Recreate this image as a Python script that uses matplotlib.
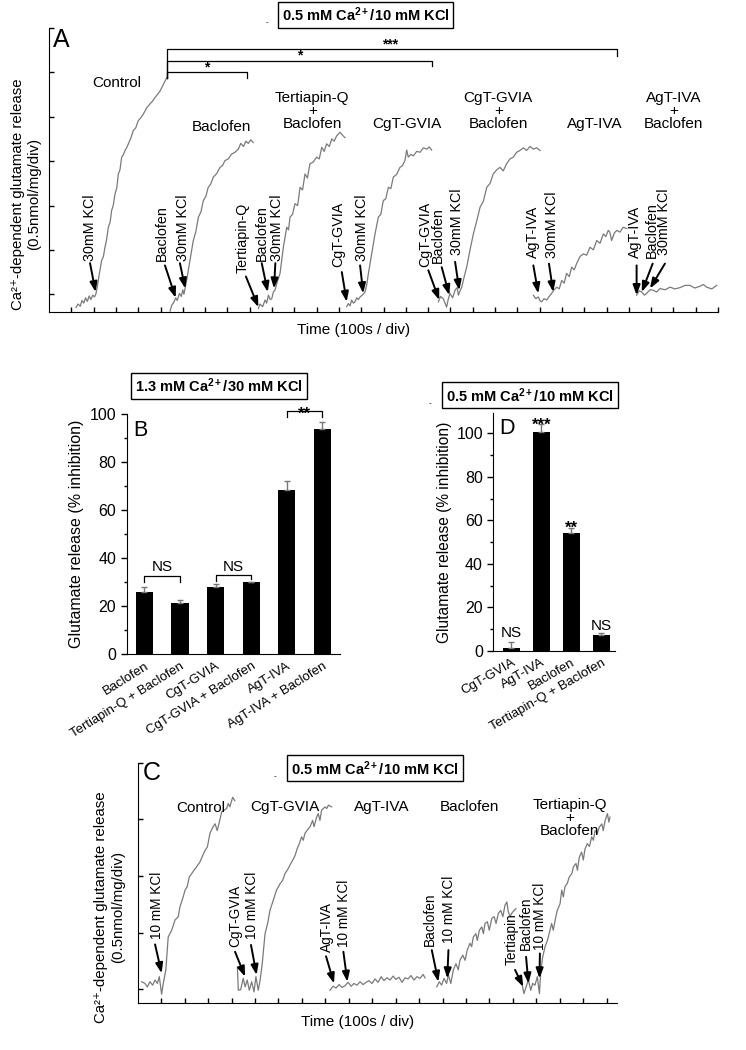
import matplotlib
matplotlib.use("Agg")
import matplotlib.pyplot as plt
import numpy as np

plt.rcParams['font.family'] = ['Liberation Sans', 'DejaVu Sans']
plt.rcParams['mathtext.fontset'] = 'custom'
plt.rcParams['mathtext.rm'] = 'Liberation Sans'
plt.rcParams['mathtext.bf'] = 'Liberation Sans:bold'
plt.rcParams['mathtext.it'] = 'Liberation Sans:italic'

# ---------------- panel A traces (time in div, release in div) ----------------
ctrlA_t = [1.21, 1.30, 1.40, 1.48, 1.56, 1.64, 1.72, 1.80, 1.88, 1.96, 2.04, 2.10, 2.16, 2.26, 2.36, 2.44,
           2.51, 2.58, 2.66, 2.74, 2.81, 2.88, 2.96, 3.04, 3.11, 3.18, 3.26, 3.34, 3.41, 3.48, 3.56, 3.67,
           3.78, 3.89, 4.00, 4.12, 4.23, 4.38, 4.53, 4.64, 4.75, 4.86, 4.98, 5.06, 5.13, 5.20, 5.28]
ctrlA_y = [-0.30, -0.22, -0.27, -0.14, -0.20, -0.08, -0.16, -0.04, -0.12, -0.02, -0.06, 0.00, 0.15, 0.47,
           0.76, 0.85, 1.06, 1.22, 1.51, 1.62, 1.89, 2.00, 2.26, 2.40, 2.71, 2.80, 3.09, 3.15, 3.24, 3.30,
           3.39, 3.52, 3.69, 3.75, 3.91, 3.98, 4.06, 4.20, 4.29, 4.35, 4.43, 4.50, 4.58, 4.66, 4.73, 4.80, 4.88]

bacA_t = [5.43, 5.50, 5.60, 5.68, 5.75, 5.85, 5.93, 6.00, 6.05, 6.12, 6.17, 6.32, 6.47, 6.58, 6.70, 6.81,
          6.92, 7.03, 7.14, 7.25, 7.37, 7.52, 7.67, 7.78, 7.89, 8.04, 8.19, 8.34, 8.49, 8.60, 8.72, 8.83,
          8.94, 9.05, 9.16]
bacA_y = [-0.38, -0.25, -0.18, -0.08, -0.14, 0.02, -0.05, 0.10, 0.00, 0.18, 0.31, 0.76, 1.21, 1.40, 1.74,
          1.85, 2.11, 2.20, 2.41, 2.48, 2.64, 2.72, 2.86, 2.90, 3.01, 3.05, 3.16, 3.20, 3.27, 3.40, 3.33,
          3.45, 3.40, 3.48, 3.42]

tqA_t = [9.39, 9.46, 9.58, 9.69, 9.76, 9.84, 9.92, 9.99, 10.06, 10.13, 10.25, 10.36, 10.51, 10.66, 10.74,
         10.81, 10.92, 11.03, 11.15, 11.26, 11.37, 11.48, 11.59, 11.70, 11.85, 12.00, 12.12, 12.23, 12.34,
         12.45, 12.57, 12.68, 12.79, 12.90, 13.05, 13.17, 13.27]
tqA_y = [-0.32, -0.22, -0.28, -0.13, -0.20, -0.02, -0.12, -0.10, 0.05, 0.09, 0.30, 0.47, 1.06, 1.51, 1.45,
         1.74, 1.80, 2.04, 2.00, 2.41, 2.35, 2.71, 2.62, 2.94, 2.98, 3.09, 3.05, 3.31, 3.22, 3.39, 3.33,
         3.50, 3.45, 3.57, 3.65, 3.58, 3.53]

cgA_t = [13.35, 13.42, 13.50, 13.57, 13.65, 13.72, 13.80, 13.87, 13.95, 14.05, 14.17, 14.25, 14.32, 14.47,
         14.62, 14.77, 14.88, 14.99, 15.10, 15.22, 15.33, 15.44, 15.59, 15.74, 15.85, 15.96, 16.04, 16.11,
         16.22, 16.34, 16.49, 16.64, 16.79, 16.94, 17.05, 17.16]
cgA_y = [-0.28, -0.21, -0.26, -0.13, -0.20, -0.17, -0.08, -0.12, -0.06, -0.02, 0.05, 0.22, 0.46, 0.91,
         1.36, 1.74, 1.80, 2.11, 2.15, 2.41, 2.38, 2.64, 2.70, 2.86, 2.90, 3.01, 3.25, 3.09, 3.15, 3.12,
         3.22, 3.20, 3.30, 3.27, 3.32, 3.25]

cgbA_t = [17.46, 17.56, 17.68, 17.76, 17.83, 17.90, 17.98, 18.10, 18.21, 18.30, 18.36, 18.45, 18.51,
          18.62, 18.73, 18.88, 19.03, 19.18, 19.33, 19.48, 19.63, 19.78, 19.92, 20.07, 20.22, 20.37,
          20.52, 20.67, 20.82, 20.97, 21.12, 21.27, 21.42, 21.57, 21.72, 21.87, 22.02]
cgbA_y = [-0.17, -0.05, -0.10, -0.20, -0.29, -0.12, 0.02, -0.08, 0.09, 0.15, -0.02, 0.10, 0.16, 0.40,
          0.61, 1.00, 1.36, 1.65, 1.96, 2.10, 2.41, 2.50, 2.71, 2.80, 2.86, 2.78, 2.94, 3.05, 3.09, 3.20,
          3.24, 3.30, 3.24, 3.33, 3.27, 3.30, 3.24]

agA_t = [21.72, 21.83, 21.94, 22.02, 22.09, 22.20, 22.32, 22.43, 22.54, 22.65, 22.77, 22.88, 22.99, 23.10,
         23.21, 23.33, 23.44, 23.55, 23.66, 23.81, 23.96, 24.11, 24.26, 24.41, 24.56, 24.71, 24.86, 24.97,
         25.08, 25.15, 25.23, 25.35, 25.46, 25.60, 25.75, 25.91]
agA_y = [-0.02, -0.10, -0.06, -0.15, -0.17, -0.10, -0.13, -0.05, 0.02, 0.10, 0.16, 0.12, 0.31, 0.25, 0.47,
         0.40, 0.61, 0.55, 0.69, 0.85, 0.91, 0.88, 1.06, 1.00, 1.21, 1.15, 1.36, 1.30, 1.44, 1.40, 1.21,
         1.38, 1.44, 1.40, 1.51, 1.48]

agbA_t = [26.35, 26.47, 26.58, 26.70, 26.80, 26.95, 27.10, 27.25, 27.40, 27.62, 27.85, 28.07, 28.30, 28.52,
          28.74, 28.96, 29.19, 29.34, 29.49, 29.72, 29.94]
agbA_y = [-0.02, 0.08, 0.05, -0.02, 0.02, 0.10, 0.09, 0.05, 0.13, 0.10, 0.16, 0.12, 0.15, 0.20, 0.20, 0.14,
          0.18, 0.22, 0.16, 0.12, 0.20]

tracesA = [(ctrlA_t, ctrlA_y), (bacA_t, bacA_y), (tqA_t, tqA_y), (cgA_t, cgA_y),
           (cgbA_t, cgbA_y), (agA_t, agA_y), (agbA_t, agbA_y)]

labelsA = ["Control", "Baclofen", "Tertiapin-Q\n+\nBaclofen", "CgT-GVIA",
           "CgT-GVIA\n+\nBaclofen", "AgT-IVA", "AgT-IVA\n+\nBaclofen"]
labelsA_pos = [(3.04, 4.77), (7.74, 3.76), (11.81, 4.13), (16.04, 3.84),
               (20.15, 4.13), (24.48, 3.84), (28.0, 4.13)]

# arrows: text, text x, text bottom, tail x, tail y, tip x, tip y
arrowsA = [("30mM KCl", 1.84, 0.76, 1.84, 0.70, 2.09, 0.05),
           ("Baclofen", 5.05, 0.76, 5.20, 0.65, 5.68, -0.08),
           ("30mM KCl", 6.00, 0.76, 5.87, 0.70, 6.11, 0.13),
           ("Tertiapin-Q", 8.67, 0.47, 8.83, 0.40, 9.39, -0.29),
           ("Baclofen", 9.54, 0.76, 9.54, 0.70, 9.81, 0.05),
           ("30mM KCl", 10.21, 0.76, 10.15, 0.70, 10.09, 0.13),
           ("CgT-GVIA", 12.97, 0.61, 13.13, 0.50, 13.35, -0.17),
           ("30mM KCl", 14.02, 0.76, 13.95, 0.65, 14.09, 0.02),
           ("CgT-GVIA", 16.86, 0.61, 17.01, 0.54, 17.50, -0.13),
           ("Baclofen", 17.46, 0.70, 17.61, 0.61, 17.95, -0.02),
           ("30mM KCl", 18.31, 0.88, 18.21, 0.73, 18.40, 0.09),
           ("AgT-IVA", 21.72, 0.81, 21.72, 0.65, 21.94, 0.02),
           ("30mM KCl", 22.54, 0.81, 22.42, 0.69, 22.61, 0.05),
           ("AgT-IVA", 26.28, 0.81, 26.35, 0.65, 26.35, -0.02),
           ("Baclofen", 27.03, 0.81, 27.07, 0.69, 26.58, 0.05),
           ("30mM KCl", 27.58, 0.88, 27.62, 0.69, 26.95, 0.13)]

# significance brackets: start, end, height, right drop, stars, star x
bracketsA = [(5.28, 25.46, 5.52, 5.37, "***", 15.29),
             (5.28, 17.16, 5.26, 5.15, "*", 11.26),
             (5.28, 8.87, 5.00, 4.88, "*", 7.07)]

# ---------------- panel B ----------------
catB = ["Baclofen", "Tertiapin-Q + Baclofen", "CgT-GVIA", "CgT-GVIA + Baclofen",
        "AgT-IVA", "AgT-IVA + Baclofen"]
valB = [26.1, 21.3, 27.9, 30.0, 68.5, 93.8]
errB = [1.8, 1.3, 1.4, 0.3, 3.9, 2.9]

# ---------------- panel D ----------------
catD = ["CgT-GVIA", "AgT-IVA", "Baclofen", "Tertiapin-Q + Baclofen"]
valD = [1.5, 100.6, 54.1, 7.2]
errD = [2.8, 3.8, 2.3, 1.2]
sigD = ["NS", "***", "**", "NS"]

# ---------------- panel C traces ----------------
ctrlC_t = [0.17, 0.31, 0.41, 0.52, 0.64, 0.74, 0.84, 0.92, 1.02, 1.09, 1.20, 1.30, 1.45, 1.59, 1.73, 1.80,
           1.94, 2.02, 2.11, 2.20, 2.30, 2.40, 2.51, 2.66, 2.77, 2.87, 2.97, 3.08, 3.20, 3.30, 3.39, 3.48,
           3.58, 3.68, 3.79, 3.86, 3.93, 4.05, 4.14]
ctrlC_y = [0.13, 0.10, 0.04, 0.13, 0.07, 0.16, 0.10, 0.22, -0.09, 0.10, 0.34, 0.92, 1.04, 1.22, 1.28, 1.45,
           1.63, 1.75, 1.81, 1.98, 2.04, 2.10, 2.16, 2.25, 2.36, 2.45, 2.51, 2.75, 2.86, 2.92, 2.80, 2.95,
           3.13, 3.16, 3.19, 3.28, 3.22, 3.39, 3.33]

cgC_t = [4.25, 4.29, 4.39, 4.50, 4.58, 4.67, 4.76, 4.86, 4.96, 5.04, 5.14, 5.22, 5.31, 5.43, 5.54, 5.64,
         5.78, 5.92, 6.07, 6.18, 6.28, 6.42, 6.49, 6.61, 6.71, 6.80, 6.89, 6.99, 7.06, 7.13, 7.23, 7.35,
         7.46, 7.52, 7.63, 7.70, 7.77, 7.84, 7.99, 8.06, 8.13, 8.27]
cgC_y = [0.39, -0.02, -0.01, 0.19, 0.04, 0.16, -0.02, 0.13, -0.05, 0.22, -0.02, 0.16, 0.45, 0.98, 1.16,
         1.39, 1.57, 1.75, 1.86, 1.92, 2.04, 2.13, 2.19, 2.28, 2.36, 2.48, 2.57, 2.69, 2.63, 2.75, 2.81,
         2.87, 2.98, 2.87, 3.04, 3.10, 2.98, 3.16, 3.22, 3.19, 3.25, 3.22]

agC_t = [8.20, 8.33, 8.46, 8.59, 8.71, 8.84, 8.97, 9.10, 9.22, 9.35, 9.48, 9.61, 9.74, 9.86, 9.99, 10.12,
         10.25, 10.38, 10.50, 10.63, 10.76, 10.89, 11.01, 11.14, 11.27, 11.40, 11.53, 11.65, 11.78, 11.91,
         12.04, 12.17, 12.25]
agC_y = [-0.02, 0.05, 0.02, 0.08, 0.03, 0.06, 0.12, 0.05, 0.10, 0.07, 0.13, 0.08, 0.12, 0.15, 0.10, 0.18,
         0.12, 0.22, 0.15, 0.20, 0.16, 0.23, 0.17, 0.21, 0.12, 0.20, 0.18, 0.24, 0.16, 0.22, 0.19, 0.26, 0.20]

bacC_t = [12.75, 12.86, 12.96, 13.06, 13.17, 13.25, 13.35, 13.46, 13.57, 13.67, 13.74, 13.86, 13.96, 14.05,
          14.17, 14.24, 14.31, 14.42, 14.48, 14.57, 14.67, 14.74, 14.81, 14.91, 14.99, 15.10, 15.20, 15.28,
          15.38, 15.48, 15.57, 15.66, 15.74, 15.80, 15.88, 15.95, 16.05, 16.13]
bacC_y = [0.04, 0.13, 0.07, 0.19, 0.10, 0.25, 0.10, 0.34, 0.45, 0.34, 0.51, 0.60, 0.51, 0.69, 0.81, 0.75,
          0.92, 0.98, 0.86, 1.04, 1.10, 0.98, 1.16, 1.19, 1.04, 1.25, 1.28, 1.16, 1.34, 1.39, 1.28, 1.48,
          1.54, 1.37, 1.28, 1.34, 1.39, 1.42]

tqC_t = [16.38, 16.47, 16.56, 16.66, 16.76, 16.84, 16.94, 17.04, 17.13, 17.19, 17.27, 17.37, 17.47, 17.58,
         17.65, 17.72, 17.80, 17.89, 18.01, 18.08, 18.15, 18.22, 18.32, 18.40, 18.51, 18.58, 18.69, 18.75,
         18.83, 18.93, 19.00, 19.07, 19.17, 19.26, 19.36, 19.43, 19.50, 19.60, 19.68, 19.79, 19.85, 19.93,
         20.03, 20.09, 20.14]
tqC_y = [0.10, -0.08, 0.04, 0.16, -0.02, 0.10, 0.07, 0.22, -0.08, 0.34, 0.57, 0.75, 0.86, 1.04, 1.16, 1.04,
         1.22, 1.39, 1.51, 1.75, 1.63, 1.81, 1.87, 1.98, 2.04, 2.16, 2.22, 2.10, 2.33, 2.42, 2.28, 2.47,
         2.57, 2.52, 2.69, 2.63, 2.80, 2.75, 2.86, 2.92, 2.80, 2.98, 3.10, 2.95, 3.04]

tracesC = [(ctrlC_t, ctrlC_y), (cgC_t, cgC_y), (agC_t, agC_y), (bacC_t, bacC_y), (tqC_t, tqC_y)]
labelsC = ["Control", "CgT-GVIA", "AgT-IVA", "Baclofen", "Tertiapin-Q\n+\nBaclofen"]
labelsC_pos = [(2.69, 3.20), (6.28, 3.22), (10.41, 3.22), (14.13, 3.22), (18.43, 3.02)]

arrowsC = [("10 mM KCl", 0.81, 0.89, 0.74, 0.79, 1.02, 0.28),
           ("CgT-GVIA", 4.15, 0.75, 4.15, 0.66, 4.58, 0.22),
           ("10 mM KCl", 4.86, 0.89, 4.83, 0.78, 5.07, 0.25),
           ("AgT-IVA", 8.06, 0.66, 8.03, 0.58, 8.37, 0.10),
           ("10 mM KCl", 8.80, 0.75, 8.77, 0.66, 8.94, 0.13),
           ("Baclofen", 12.47, 0.76, 12.54, 0.69, 12.82, 0.13),
           ("10 mM KCl", 13.29, 0.81, 13.25, 0.69, 13.20, 0.19),
           ("Tertiapin", 15.95, 0.42, 16.09, 0.34, 16.44, 0.04),
           ("Baclofen", 16.56, 0.69, 16.56, 0.57, 16.66, 0.10),
           ("10 mM KCl", 17.15, 0.69, 17.15, 0.63, 17.13, 0.19)]

TITLE_05 = r'0.5 mM Ca$^{\mathbf{2+}}$/10 mM KCl'
TITLE_13 = r'1.3 mM Ca$^{\mathbf{2+}}$/30 mM KCl'
YLAB_TRACE = 'Ca\u00b2\u207a-dependent glutamate release\n(0.5nmol/mg/div)'
trace_col = '#7a7a7a'

W, H = 746, 1050


def fx(x):
    return x / W


def fy(y):
    return 1 - y / H


def box_title(x, y, s):
    fig.text(fx(x), fy(y), s, ha='center', va='center', fontsize=10.5, fontweight='bold',
             bbox=dict(boxstyle='square,pad=0.25', fc='white', ec='black', lw=1.0))


def trace_axes(ax):
    for s in ['top', 'right']:
        ax.spines[s].set_visible(False)
    ax.tick_params(direction='in', length=3.5, width=1, labelleft=False, labelbottom=False)


def draw_arrows(ax, arrows, fs):
    for txt, xt, yt, x0, y0, x1, y1 in arrows:
        ax.text(xt, yt, txt, rotation=90, ha='center', va='bottom', fontsize=fs)
        ax.annotate('', xy=(x1, y1), xytext=(x0, y0),
                    arrowprops=dict(arrowstyle='-|>,head_length=0.6,head_width=0.22', color='black',
                                    lw=1.4, shrinkA=0, shrinkB=0))


fig = plt.figure(figsize=(W / 100, H / 100), dpi=100)

# ===================== A =====================
axA = fig.add_axes([fx(49), fy(312), fx(718) - fx(49), (312 - 28) / H])
for t, y in tracesA:
    axA.plot(t, y, color=trace_col, lw=0.9)
axA.set_xlim(0, 30)
axA.set_ylim(-0.4, 6.0)
axA.set_xticks(np.arange(1, 31))
axA.set_yticks(np.arange(0, 7))
trace_axes(axA)
for s, (x, y) in zip(labelsA, labelsA_pos):
    axA.text(x, y, s, ha='center', va='center', fontsize=11, linespacing=0.92)
draw_arrows(axA, arrowsA, 10.3)
for x0, x1, yl, yr, st, xs in bracketsA:
    axA.plot([x0, x0, x1, x1], [4.88, yl, yl, yr], color='black', lw=0.9, clip_on=False)
    axA.text(xs, yl + 0.02, st, ha='center', va='baseline', fontsize=10, fontweight='bold')
fig.text(fx(53), fy(40), 'A', fontsize=18, ha='left', va='center')
fig.text(fx(26), fy(194), YLAB_TRACE, rotation=90, ha='center', va='center', fontsize=10.8,
         linespacing=1.25)
fig.text(fx(354), fy(330), 'Time (100s / div)', ha='center', va='center', fontsize=11)
box_title(365.8, 15, TITLE_05)

# ===================== B =====================
axB = fig.add_axes([fx(126.7), fy(654.3), (340 - 126.7) / W, (654.3 - 414.3) / H])
xB = np.arange(len(catB))
axB.bar(xB, valB, width=0.48, color='black')
axB.errorbar(xB, valB, yerr=[np.zeros(len(errB)), errB], fmt='none', ecolor='#777777',
             elinewidth=1, capsize=2, capthick=1)
axB.set_xlim(-0.5, 5.5)
axB.set_ylim(0, 100)
axB.set_yticks(np.arange(0, 101, 20))
axB.set_yticks(np.arange(10, 100, 20), minor=True)
axB.tick_params(axis='y', labelsize=11.5, length=4, width=1)
axB.tick_params(axis='y', which='minor', length=2, width=1)
axB.set_xticks(xB)
axB.set_xticklabels(catB, rotation=32, ha='right', rotation_mode='anchor', fontsize=9.5)
axB.tick_params(axis='x', length=0, pad=4)
for s in ['top', 'right']:
    axB.spines[s].set_visible(False)
axB.set_ylabel('Glutamate release (% inhibition)', fontsize=11.5, labelpad=4)
for a, b, yl, yd1, yd2, st in [(0, 1, 32.6, 30.3, 30.3, 'NS'), (2, 3, 33.1, 30.6, 31.2, 'NS')]:
    axB.plot([a, a, b, b], [yd1, yl, yl, yd2], color='black', lw=0.9)
    axB.text((a + b) / 2, 34.6, st, ha='center', va='baseline', fontsize=11)
axB.plot([4, 4, 5, 5], [99.0, 101.4, 101.4, 99.0], color='black', lw=0.9, clip_on=False)
axB.text(4.5, 98.3, '**', ha='center', va='baseline', fontsize=12, fontweight='bold')
fig.text(fx(140), fy(430), 'B', fontsize=15.5, ha='center', va='center')
box_title(219, 386, TITLE_13)

# ===================== D =====================
axD = fig.add_axes([fx(493.3), fy(651), (615 - 493.3) / W, (651 - 413.3) / H])
xD = np.arange(len(catD))
axD.bar(xD, valD, width=0.57, color='black')
axD.errorbar(xD, valD, yerr=[np.zeros(len(errD)), errD], fmt='none', ecolor='#777777',
             elinewidth=1, capsize=2, capthick=1)
axD.set_xlim(-0.6, 3.45)
axD.set_ylim(0, 109.2)
axD.set_yticks(np.arange(0, 101, 20))
axD.set_yticks(np.arange(10, 110, 20), minor=True)
axD.tick_params(axis='y', labelsize=11.5, length=4, width=1)
axD.tick_params(axis='y', which='minor', length=2, width=1)
axD.set_xticks(xD)
axD.set_xticklabels(catD, rotation=30, ha='right', rotation_mode='anchor', fontsize=9.5)
axD.tick_params(axis='x', length=0, pad=4)
for s in ['top', 'right']:
    axD.spines[s].set_visible(False)
axD.set_ylabel('Glutamate release (% inhibition)', fontsize=11.2, labelpad=3)
sigD_base = [6.5, 101.7, 54.3, 9.5]
for x, st, yb in zip(xD, sigD, sigD_base):
    if st == 'NS':
        axD.text(x, yb, st, ha='center', va='baseline', fontsize=11)
    else:
        axD.text(x, yb, st, ha='center', va='baseline', fontsize=12, fontweight='bold', clip_on=False)
fig.text(fx(506.7), fy(428.3), 'D', fontsize=15.5, ha='center', va='center')
box_title(530, 395.3, TITLE_05)
fig.text(fx(430), fy(404), '-', fontsize=6, ha='center', va='center')

# ===================== C =====================
axC = fig.add_axes([fx(137.7), fy(1002.7), (617.3 - 137.7) / W, (1002.7 - 762.7) / H])
for t, y in tracesC:
    axC.plot(t, y, color=trace_col, lw=0.9)
axC.set_xlim(0, 20.45)
axC.set_ylim(-0.24, 4.0)
axC.set_xticks(np.arange(1, 21))
axC.set_yticks(np.arange(0, 5))
trace_axes(axC)
for s, (x, y) in zip(labelsC, labelsC_pos):
    axC.text(x, y, s, ha='center', va='center', fontsize=11, linespacing=0.92)
draw_arrows(axC, arrowsC, 9.8)
fig.text(fx(151.7), fy(773.3), 'C', fontsize=18, ha='center', va='center')
fig.text(fx(109.5), fy(906.7), YLAB_TRACE, rotation=90, ha='center', va='center', fontsize=10.8,
         linespacing=1.25)
fig.text(fx(357.5), fy(1022), 'Time (100s / div)', ha='center', va='center', fontsize=11)
box_title(375, 768.3, TITLE_05)
fig.text(fx(275), fy(777), '-', fontsize=6, ha='center', va='center')
fig.text(fx(266.7), fy(23), '-', fontsize=6, ha='center', va='center')

fig.savefig('out.png', dpi=100)
